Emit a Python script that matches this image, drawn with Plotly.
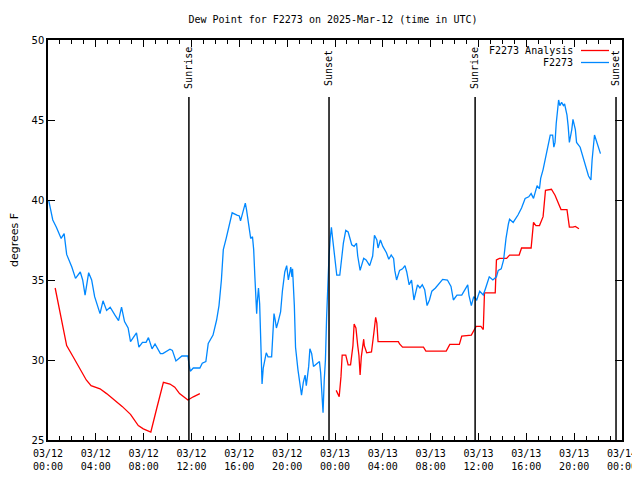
import pandas as pd
import plotly.graph_objects as go

start = pd.Timestamp("2025-03-12 00:00")

# F2273 observations: hours since 03/12 00:00 UTC, dew point (F)
obs_hours = [0.05, 0.4, 0.7, 1.1, 1.35, 1.56, 2.0, 2.3, 2.7, 2.9, 3.1, 3.4, 3.65, 3.9, 4.35, 4.6, 4.9, 5.2, 5.6, 5.9,
             6.15, 6.4, 6.7, 6.9, 7.4, 7.6, 7.9, 8.2, 8.4, 8.7, 8.95, 9.4, 9.6, 10.2, 10.4, 10.7, 11.2, 11.7, 11.8, 11.9,
             12.15, 12.7, 12.9, 13.2, 13.4, 13.8, 14.1, 14.3, 14.5, 14.66, 14.9, 15.2, 15.4, 15.8, 16.0, 16.1, 16.3, 16.5,
             16.6, 16.75, 16.95, 17.1, 17.2, 17.3, 17.45, 17.5, 17.6, 17.7, 17.8, 17.9, 18.0, 18.15, 18.25, 18.4, 18.7,
             18.8, 18.9, 19.0, 19.1, 19.25, 19.45, 19.6, 19.8, 19.96, 20.1, 20.2, 20.3, 20.4, 20.45, 20.6, 20.7, 20.9,
             21.1, 21.2, 21.35, 21.5, 21.6, 21.8, 21.9, 22.05, 22.2, 22.7, 22.8, 22.9, 23.0, 23.1, 23.2, 23.3, 23.4, 23.5,
             23.6, 23.7, 23.8, 23.9, 24.0, 24.15, 24.4, 24.55, 24.7, 24.9, 25.1, 25.4, 25.6, 25.8, 25.9, 26.1, 26.4, 26.6,
             26.9, 27.15, 27.3, 27.5, 27.6, 27.8, 28.0, 28.3, 28.5, 28.7, 28.9, 29.0, 29.15, 29.4, 29.65, 29.85, 30.0,
             30.2, 30.4, 30.6, 30.8, 30.9, 31.1, 31.3, 31.5, 31.7, 31.9, 32.1, 32.4, 32.8, 33.0, 33.4, 33.7, 33.9, 34.2,
             34.6, 34.9, 35.1, 35.2, 35.4, 35.6, 35.85, 36.1, 36.4, 36.6, 36.9, 37.2, 37.5, 37.65, 37.9, 38.1, 38.3, 38.5,
             38.6, 38.9, 39.3, 39.6, 39.9, 40.2, 40.4, 40.6, 40.9, 41.1, 41.2, 41.4, 41.6, 41.8, 42.0, 42.2, 42.3, 42.4,
             42.5, 42.7, 42.8, 42.95, 43.1, 43.2, 43.4, 43.5, 43.6, 43.8, 43.9, 44.1, 44.2, 44.5, 44.7, 44.9, 45.2, 45.4,
             45.5, 45.7, 45.9, 46.1, 46.2]
obs_dewpt = [40.0, 38.75, 38.3, 37.6, 37.9, 36.6, 35.8, 35.1, 35.5, 35.0, 34.06, 35.46, 35.0, 33.96, 32.9, 33.7, 33.1,
             33.3, 32.8, 32.46, 33.3, 32.4, 32.0, 31.15, 31.7, 30.8, 31.1, 31.1, 31.4, 30.7, 31.0, 30.4, 30.4, 30.67,
             30.6, 29.94, 30.25, 30.25, 29.7, 29.3, 29.5, 29.5, 29.8, 29.9, 31.04, 31.56, 32.5, 33.4, 35.0, 36.9, 37.6,
             38.5, 39.2, 39.06, 39.0, 38.7, 39.3, 39.8, 39.4, 38.5, 37.6, 37.7, 36.9, 35.2, 32.9, 33.6, 34.5, 33.5,
             31.56, 28.5, 29.5, 30.1, 30.45, 30.2, 30.2, 31.56, 32.9, 32.5, 32.0, 32.4, 33.0, 34.3, 35.5, 35.9, 35.0,
             35.4, 35.8, 35.2, 35.7, 33.4, 30.8, 29.4, 28.1, 27.8, 28.6, 29.06, 28.4, 29.6, 30.7, 30.4, 29.6, 29.9, 29.2,
             27.4, 26.7, 28.75, 30.0, 32.7, 35.2, 36.5, 37.6, 38.3, 37.6, 36.9, 36.1, 35.3, 35.3, 36.25, 37.3, 38.1,
             38.0, 37.2, 37.1, 37.3, 36.5, 35.6, 36.35, 36.25, 35.9, 36.5, 37.8, 37.5, 37.0, 37.5, 37.1, 36.7, 36.3,
             36.56, 36.35, 35.6, 35.0, 35.6, 35.7, 35.9, 35.5, 34.7, 35.0, 33.75, 34.3, 34.7, 34.5, 34.7, 34.4, 33.4,
             33.75, 34.3, 34.5, 34.9, 35.04, 35.0, 34.6, 33.75, 34.06, 34.06, 34.4, 34.7, 34.06, 33.4, 33.96, 33.75,
             34.3, 34.06, 34.5, 35.2, 35.0, 35.2, 35.6, 35.7, 36.25, 37.6, 38.5, 38.8, 38.6, 39.06, 39.5, 40.1, 40.2,
             40.4, 40.1, 40.9, 40.7, 41.35, 41.9, 42.7, 43.3, 44.06, 44.06, 43.3, 43.6, 44.8, 46.25, 45.9, 46.1, 45.9,
             46.0, 45.3, 44.6, 43.6, 44.4, 45.04, 44.4, 43.6, 43.3, 42.8, 42.2, 41.5, 41.25, 42.5, 44.06, 43.6, 43.1,
             42.9]

# F2273 Analysis: hours since 03/12 00:00 UTC, dew point (F); None marks a gap
ana_hours = [0.6, 0.86, 1.2, 1.56, 2.1, 2.7, 3.2, 3.6, 4.35, 4.9, 5.6, 6.2, 6.9, 7.55, 7.97, 8.6, 9.1, 9.65, 10.2,
             10.6, 11.0, 11.7, 12.15, 12.7, 18.0,
             24.1, 24.35, 24.5, 24.6, 24.9, 25.1, 25.3, 25.5, 25.6, 25.75, 25.9, 26.0, 26.1, 26.2, 26.4, 26.45, 26.65,
             27.05, 27.25, 27.4, 27.5, 27.6, 29.3, 29.4, 29.65, 31.4, 31.6, 33.3, 33.6, 34.4, 34.6, 35.4, 35.8, 36.2,
             36.4, 36.5, 37.4, 37.5, 37.75, 38.35, 38.6, 39.4, 39.6, 40.4, 40.6, 40.8, 41.1, 41.4, 41.6, 42.1, 42.4,
             42.75, 42.9, 43.4, 43.6, 43.9, 44.1, 44.4]
ana_dewpt = [34.5, 33.5, 32.1, 30.9, 30.2, 29.4, 28.75, 28.4, 28.2, 27.9, 27.5, 27.1, 26.6, 25.9, 25.7, 25.5, 27.0,
             28.6, 28.5, 28.3, 27.9, 27.5, 27.7, 27.9, None,
             28.1, 27.7, 28.96, 30.3, 30.3, 29.7, 29.7, 30.9, 32.25, 32.0, 30.9, 30.3, 29.06, 30.2, 31.3, 30.9, 30.45,
             30.5, 31.7, 32.67, 32.3, 31.15, 31.15, 31.0, 30.8, 30.8, 30.56, 30.56, 30.98, 30.98, 31.5, 31.56, 32.1,
             32.1, 31.9, 34.2, 34.2, 36.25, 36.35, 36.35, 36.56, 36.56, 37.0, 37.0, 38.6, 38.4, 38.4, 38.96, 40.6,
             40.67, 40.3, 39.7, 39.4, 39.4, 38.3, 38.3, 38.35, 38.2]

sun_labels = ["Sunrise", "Sunset", "Sunrise", "Sunset"]
sun_times = ["2025-03-12 11:47", "2025-03-12 23:30", "2025-03-13 11:43", "2025-03-13 23:30"]

x_tick_times = pd.date_range("2025-03-12 00:00", "2025-03-14 00:00", freq="4h")
x_tick_text = [t.strftime("%m/%d") + "<br>" + t.strftime("%H:%M") for t in x_tick_times]

obs_t = [start + pd.Timedelta(hours=h) for h in obs_hours]
ana_t = [start + pd.Timedelta(hours=h) for h in ana_hours]

RED = "#ff0000"
BLUE = "#0088ff"
MONO = "DejaVu Sans Mono"

# the page's body has an 8 px margin, so the figure is 8 px smaller and starts at (8, 8)
OFF = 8
W, H = 640 - OFF, 480 - OFF
L, R, T, B = 48 - OFF, 18, 40 - OFF, 40

fig = go.Figure()
fig.add_trace(go.Scatter(x=ana_t, y=ana_dewpt, mode="lines", name="F2273 Analysis",
                         line=dict(color=RED, width=1.3), connectgaps=False))
fig.add_trace(go.Scatter(x=obs_t, y=obs_dewpt, mode="lines", name="F2273",
                         line=dict(color=BLUE, width=1.3)))

for lab, t in zip(sun_labels, sun_times):
    fig.add_shape(type="line", x0=t, x1=t, xref="x", yref="paper", y0=0, y1=0.8575,
                  line=dict(color="black", width=1.5))
    fig.add_annotation(x=t, xref="x", y=0.93, yref="paper", text=lab, textangle=-90,
                       showarrow=False, xanchor="center", yanchor="middle",
                       font=dict(family=MONO, size=10, color="black"))

# legend (gnuplot style: text right-aligned, sample line on the right)
legend_rows = [("F2273 Analysis", RED, 50.5), ("F2273", BLUE, 62.5)]
for txt, col, ypx in legend_rows:
    yp = (440 - ypx) / 400
    fig.add_annotation(x=(575 - 48) / 574, xref="paper", y=yp, yref="paper", text=txt,
                       showarrow=False, xanchor="right", yanchor="middle",
                       font=dict(family=MONO, size=10, color="black"))
    fig.add_shape(type="line", xref="paper", yref="paper", x0=(581 - 48) / 574, x1=(609 - 48) / 574,
                  y0=yp, y1=yp, line=dict(color=col, width=1.3))

fig.update_layout(
    width=W, height=H,
    margin=dict(l=L, r=R, t=T, b=B, pad=0),
    paper_bgcolor="white", plot_bgcolor="white",
    showlegend=False,
    title=dict(text="Dew Point for F2273 on 2025-Mar-12 (time in UTC)", x=(333 - OFF) / W,
               xanchor="center", y=1 - (19 - OFF) / H, yref="container", yanchor="middle",
               font=dict(family=MONO, size=10, color="black")),
    font=dict(family=MONO, size=10, color="black"),
)
fig.update_xaxes(type="date", range=["2025-03-12 00:00", "2025-03-14 00:00"],
                 tickvals=x_tick_times, ticktext=x_tick_text, automargin=False,
                 ticks="inside", ticklen=7, tickcolor="black", tickwidth=1, ticklabelstandoff=3,
                 showline=True, linecolor="black", linewidth=1.5, mirror="ticks",
                 showgrid=False, zeroline=False,
                 minor=dict(dtick=3600000, ticks="inside", ticklen=4, tickcolor="black", showgrid=False),
                 tickfont=dict(family=MONO, size=10, color="black"))
fig.update_yaxes(range=[25, 50], dtick=5, tick0=25, automargin=False,
                 ticks="inside", ticklen=7, tickcolor="black", tickwidth=1,
                 showline=True, linecolor="black", linewidth=1.5, mirror="ticks",
                 showgrid=False, zeroline=False,
                 title=dict(text="degrees F", font=dict(family="DejaVu Sans", size=11, color="black"), standoff=16),
                 tickfont=dict(family="DejaVu Sans", size=10, color="black"))

fig.write_html("out.html")
